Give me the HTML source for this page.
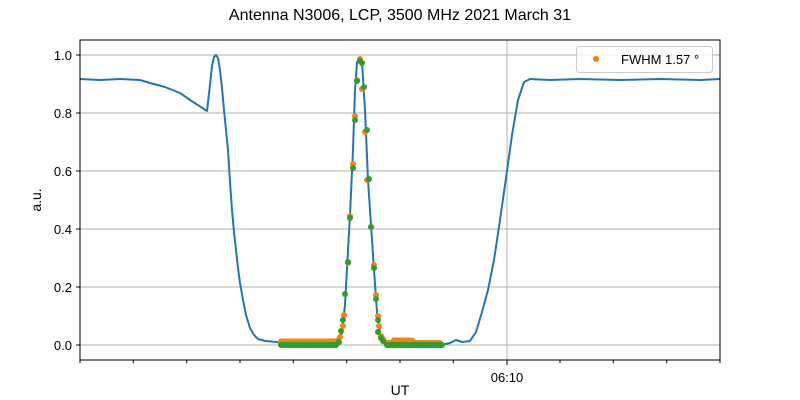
<!DOCTYPE html>
<html><head><style>body{margin:0;background:#fff}svg{display:block;font-family:"Liberation Sans","DejaVu Sans",sans-serif}</style></head>
<body>
<svg width="800" height="400" xmlns="http://www.w3.org/2000/svg">
<rect width="800" height="400" fill="#fff"/>
<text x="400" y="20" font-size="16" text-anchor="middle">Antenna N3006, LCP, 3500 MHz 2021 March 31</text>
<g stroke="#b0b0b0" stroke-width="1">
<line x1="80" x2="720" y1="345" y2="345"/><line x1="80" x2="720" y1="287" y2="287"/>
<line x1="80" x2="720" y1="229" y2="229"/><line x1="80" x2="720" y1="171" y2="171"/>
<line x1="80" x2="720" y1="113" y2="113"/><line x1="80" x2="720" y1="55" y2="55"/>
<line x1="507" x2="507" y1="40" y2="360"/>
</g>
<polyline fill="none" stroke="#1f77b4" stroke-width="2" stroke-linejoin="round" points="80,79 100,80 120,79 140,80 150,83 165,87 180,93 190,100 207,111 210,85 212,66 214,57 216,55 218,58 220,70 222,88 224,110 226,130 228,150 230,182 232,210 234,232 236,250 238,268 240,283 243,300 246,315 250,328 254,335 258,339 265,341 277,342 285,345 336,345 339,342 342,332 345,305 348,250 350,215 353,150 355,90 357,62 360,58 362,62 365,110 368,180 371,225 374,270 377,312 380,333 384,342 390,345 440,345 450,343 456,340 462,342 470,341 476,332 482,312 488,290 494,260 500,220 506,178 512,135 518,100 524,82 530,79 550,80 580,79 620,80 660,79 700,80 720,79"/>
<g stroke-linecap="round" stroke-width="6">
<line x1="281" x2="336" y1="341.5" y2="341.5" stroke="#ff7f0e"/>
<line x1="386" x2="440" y1="343" y2="343" stroke="#ff7f0e"/>
<line x1="394" x2="412" y1="340.5" y2="340.5" stroke="#ff7f0e"/>
<line x1="281" x2="336" y1="345" y2="345" stroke="#2ca02c"/>
<line x1="387" x2="442" y1="345" y2="345" stroke="#2ca02c"/>
</g>
<g fill="#ff7f0e">
<circle cx="338" cy="340" r="3"/><circle cx="340" cy="337" r="3"/><circle cx="343" cy="326" r="3"/><circle cx="344" cy="315" r="3"/><circle cx="348" cy="263" r="3"/><circle cx="350" cy="216" r="3"/><circle cx="353" cy="164" r="3"/><circle cx="355" cy="116" r="3"/><circle cx="357" cy="80" r="3"/><circle cx="360" cy="59" r="3"/><circle cx="362" cy="89" r="3"/><circle cx="365" cy="132" r="3"/><circle cx="367" cy="180" r="3"/><circle cx="371" cy="227" r="3"/><circle cx="374" cy="265" r="3"/><circle cx="376" cy="295" r="3"/><circle cx="378" cy="316" r="3"/><circle cx="379" cy="326" r="3"/><circle cx="381" cy="336" r="3"/><circle cx="383" cy="339" r="3"/>
</g>
<g fill="#2ca02c">
<circle cx="339" cy="342" r="3"/><circle cx="341" cy="331" r="3"/><circle cx="343" cy="320" r="3"/><circle cx="345" cy="294" r="3"/><circle cx="348" cy="262" r="3"/><circle cx="350" cy="218" r="3"/><circle cx="353" cy="168" r="3"/><circle cx="355" cy="120" r="3"/><circle cx="357" cy="81" r="3"/><circle cx="360" cy="61" r="3"/><circle cx="362" cy="63" r="3"/><circle cx="364" cy="87" r="3"/><circle cx="367" cy="130" r="3"/><circle cx="369" cy="179" r="3"/><circle cx="371" cy="227" r="3"/><circle cx="374" cy="268" r="3"/><circle cx="376" cy="299" r="3"/><circle cx="378" cy="320" r="3"/><circle cx="378" cy="332" r="3"/><circle cx="381" cy="338" r="3"/><circle cx="383" cy="341" r="3"/>
</g>
<rect x="80" y="40" width="640" height="320" fill="none" stroke="#000" stroke-width="1"/>
<g stroke="#000" stroke-width="1">
<line x1="76" x2="80" y1="345" y2="345"/><line x1="76" x2="80" y1="287" y2="287"/><line x1="76" x2="80" y1="229" y2="229"/><line x1="76" x2="80" y1="171" y2="171"/><line x1="76" x2="80" y1="113" y2="113"/><line x1="76" x2="80" y1="55" y2="55"/>
<line x1="80" x2="80" y1="360" y2="363"/><line x1="133.3" x2="133.3" y1="360" y2="363"/><line x1="186.7" x2="186.7" y1="360" y2="363"/><line x1="240" x2="240" y1="360" y2="363"/><line x1="293.3" x2="293.3" y1="360" y2="363"/><line x1="346.7" x2="346.7" y1="360" y2="363"/><line x1="400" x2="400" y1="360" y2="363"/><line x1="453.3" x2="453.3" y1="360" y2="363"/><line x1="507" x2="507" y1="360" y2="365"/><line x1="560" x2="560" y1="360" y2="363"/><line x1="613.3" x2="613.3" y1="360" y2="363"/><line x1="666.7" x2="666.7" y1="360" y2="363"/><line x1="720" x2="720" y1="360" y2="363"/>
</g>
<g font-size="13" text-anchor="end">
<text x="72" y="350">0.0</text><text x="72" y="292">0.2</text><text x="72" y="234">0.4</text><text x="72" y="176">0.6</text><text x="72" y="118">0.8</text><text x="72" y="60">1.0</text>
</g>
<text x="507" y="382" font-size="13" text-anchor="middle">06:10</text>
<text x="400" y="400" font-size="14" text-anchor="middle" dy="-5">UT</text>
<text transform="translate(41,200) rotate(-90)" font-size="14" text-anchor="middle">a.u.</text>
<rect x="576.5" y="46.5" width="136" height="26" rx="3" fill="#fff" fill-opacity="0.8" stroke="#ccc"/>
<circle cx="596" cy="59" r="3" fill="#ff7f0e"/>
<text x="621" y="64" font-size="13">FWHM 1.57 °</text>
</svg>
</body></html>
